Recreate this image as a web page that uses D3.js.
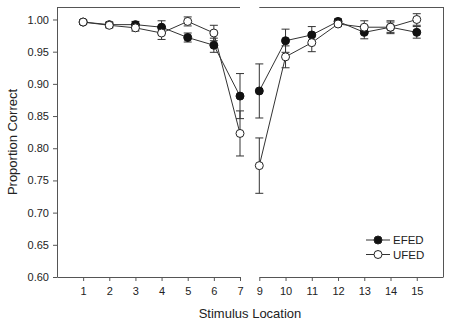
<!DOCTYPE html>
<html><head><meta charset="utf-8">
<script src="https://cdn.jsdelivr.net/npm/d3@7"></script>
<style>body{margin:0;background:#fff}svg{display:block}text{font-family:Arial,"Liberation Sans",sans-serif}</style>
</head><body><svg id="c" width="450" height="327"></svg>
<script>
const locations = [1,2,3,4,5,6,7,9,10,11,12,13,14,15];
const efedMean = [0.996,0.992,0.992,0.988,0.972,0.960,0.881,0.889,0.967,0.976,0.997,0.980,0.988,0.980];
const efedErr  = [0.003,0.004,0.005,0.010,0.007,0.011,0.035,0.042,0.018,0.013,0.004,0.010,0.008,0.009];
const ufedMean = [0.996,0.991,0.987,0.979,0.997,0.979,0.823,0.773,0.942,0.964,0.993,0.988,0.988,1.000];
const ufedErr  = [0.003,0.004,0.005,0.010,0.007,0.012,0.035,0.043,0.017,0.014,0.004,0.010,0.010,0.009];
const leftTicks = [1,2,3,4,5,6,7];
const rightTicks = [9,10,11,12,13,14,15];
const yTicks = [0.60,0.65,0.70,0.75,0.80,0.85,0.90,0.95,1.00];

const svg = d3.select("#c");
const L=57, R=443, T=7, B=277;
const xL = d3.scaleLinear().domain([0,7]).range([L,240]);
const xR = d3.scaleLinear().domain([9,16]).range([259.3,R]);
const x = v => v<=7 ? xL(v) : xR(v);
const y = d3.scaleLinear().domain([0.6,1.0194]).range([B,T]);
const axisCol = "#555";

// frame top & right
svg.append("line").attr("x1",L).attr("x2",xL(7)).attr("y1",T+0.5).attr("y2",T+0.5).attr("stroke",axisCol);
svg.append("line").attr("x1",xR(9)).attr("x2",R).attr("y1",T+0.5).attr("y2",T+0.5).attr("stroke",axisCol);
svg.append("line").attr("x1",R+0.5).attr("x2",R+0.5).attr("y1",T).attr("y2",B).attr("stroke",axisCol);

function styleAxis(g){
  g.selectAll("path,line").attr("stroke",axisCol);
  g.selectAll("text").attr("fill","#222").style("font-size","11px");
}
svg.append("g").attr("transform",`translate(0,${B})`)
  .call(d3.axisBottom(xL).tickValues(leftTicks).tickFormat(d3.format("d")).tickSize(4).tickSizeOuter(0).tickPadding(6)).call(styleAxis);
svg.append("g").attr("transform",`translate(0,${B})`)
  .call(d3.axisBottom(xR).tickValues(rightTicks).tickFormat(d3.format("d")).tickSize(4).tickSizeOuter(0).tickPadding(6)).call(styleAxis);
svg.append("g").attr("transform",`translate(${L},0)`)
  .call(d3.axisLeft(y).tickValues(yTicks).tickFormat(d3.format(".2f")).tickSize(4).tickSizeOuter(0).tickPadding(4)).call(styleAxis);

svg.append("text").attr("x",250).attr("y",318).attr("text-anchor","middle").style("font-size","13px").attr("fill","#222").text("Stimulus Location");
svg.append("text").attr("transform","translate(17,142) rotate(-90)").attr("text-anchor","middle").style("font-size","13px").attr("fill","#222").text("Proportion Correct");

function series(mean, err){
  const pts = locations.map((l,i)=>({l, m:mean[i], e:err[i]}));
  const segs = [pts.filter(p=>p.l<=7), pts.filter(p=>p.l>=9)];
  const line = d3.line().x(p=>x(p.l)).y(p=>y(p.m));
  segs.forEach(s=>svg.append("path").attr("d",line(s)).attr("fill","none").attr("stroke","#333").attr("stroke-width",1));
  const g = svg.append("g");
  pts.forEach(p=>{
    const cx=x(p.l);
    g.append("line").attr("x1",cx).attr("x2",cx).attr("y1",y(p.m-p.e)).attr("y2",y(p.m+p.e)).attr("stroke","#333");
    [p.m-p.e,p.m+p.e].forEach(v=>g.append("line").attr("x1",cx-4).attr("x2",cx+4).attr("y1",y(v)).attr("y2",y(v)).attr("stroke","#333"));
  });
  return pts;
}
const ep = series(efedMean, efedErr);
const up = series(ufedMean, ufedErr);
svg.append("g").selectAll("circle").data(ep).join("circle").attr("cx",d=>x(d.l)).attr("cy",d=>y(d.m)).attr("r",4).attr("fill","#111").attr("stroke","#111");
svg.append("g").selectAll("circle").data(up).join("circle").attr("cx",d=>x(d.l)).attr("cy",d=>y(d.m)).attr("r",4).attr("fill","#fff").attr("stroke","#222");

// legend
const leg = [{name:"EFED", fill:"#111"},{name:"UFED", fill:"#fff"}];
const lg = svg.append("g");
leg.forEach((d,i)=>{
  const yy = 240 + i*14.5;
  lg.append("line").attr("x1",366).attr("x2",390).attr("y1",yy).attr("y2",yy).attr("stroke","#333");
  lg.append("circle").attr("cx",378).attr("cy",yy).attr("r",4).attr("fill",d.fill).attr("stroke","#222");
  lg.append("text").attr("x",393).attr("y",yy+4).style("font-size","11.5px").attr("fill","#222").text(d.name);
});
</script></body></html>
